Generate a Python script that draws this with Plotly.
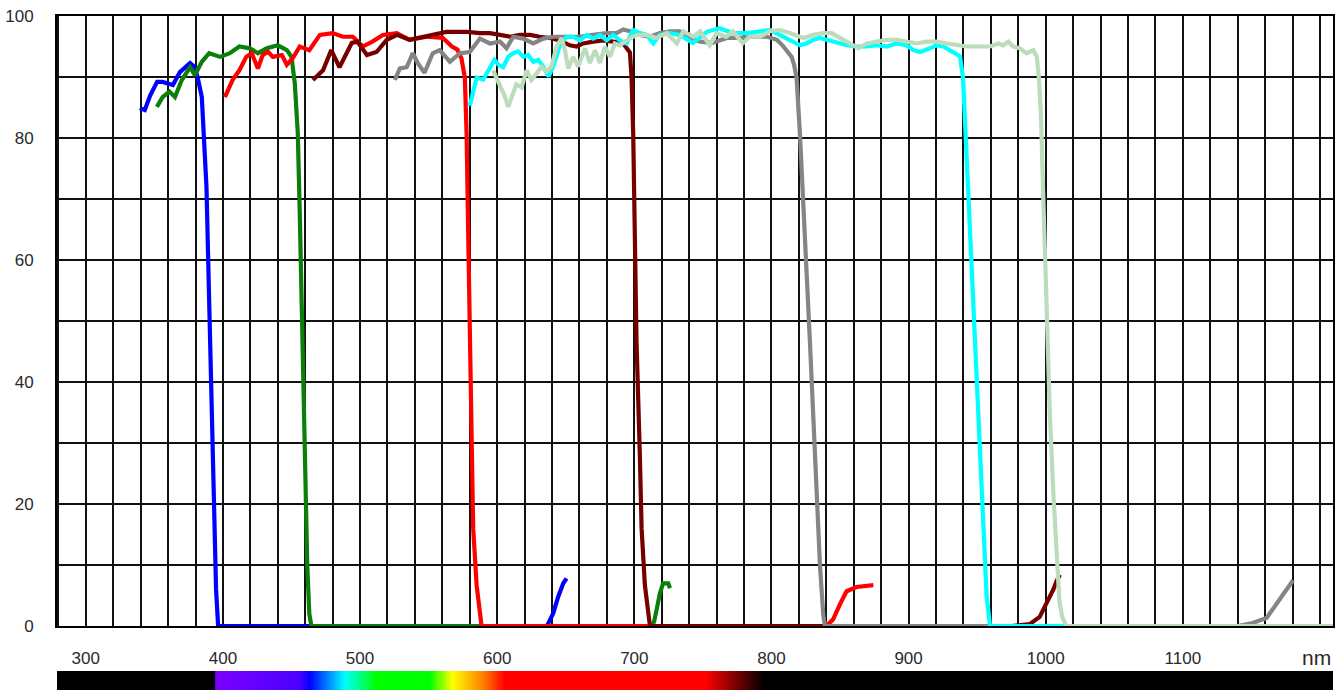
import numpy as np
import plotly.graph_objects as go

# ---------------- data ----------------
BLUE_NM = [339.4, 343, 347, 352, 356, 360, 363.5, 368.6, 372, 376, 379.5, 381.7, 384.6, 386, 388, 390, 392, 393.5, 395, 396.5,
           636, 637.2, 640.9, 644.5, 648.2, 650.6]
BLUE_T = [84.9, 84.6, 87, 89.2, 89.2, 89, 88.7, 90.8, 91.5, 92.3, 91.6, 89.8, 86.7, 81, 72, 53, 35, 20, 6, 0,
          0, 0.4, 2.1, 4.8, 7, 7.8]

GREEN_NM = [351.8, 356, 361, 365, 370, 376, 379.5, 384.6, 390, 398, 405, 412, 419.6, 425.5, 432, 440, 446.6, 450, 452.4,
            454.6, 456, 457.5, 459, 460.5, 461.5, 463, 464.5, 713, 714.5, 716.2, 718.7, 721, 724.7, 726]
GREEN_T = [85.1, 86.7, 87.6, 86.7, 89.5, 91.6, 90.3, 92.5, 93.9, 93.3, 93.9, 95, 94.7, 93.9, 94.7, 95.2, 94.4, 93.3, 89,
           80.8, 68, 52, 36, 20, 10, 2, 0, 0, 0.8, 2.6, 5.4, 7, 7, 6.2]

RED_NM = [401.4, 407, 412, 417, 421, 425.5, 429, 433, 436.4, 443, 446.6, 451, 456, 463, 470.7, 480, 487.5, 494.8, 502,
          509, 516.6, 526.8, 536, 548.7, 560.4, 567, 571, 574, 576.4, 577.7, 578.8, 580, 581.3, 582.5, 585, 587.4,
          588.6, 840.2, 845, 850, 854.8, 862, 868, 874.3]
RED_T = [86.7, 89.5, 91.1, 93.3, 93.9, 91.4, 93.6, 94.1, 93.3, 93.6, 92, 93.1, 95, 94.4, 96.9, 97.2, 96.6, 96.6, 95,
         95.8, 96.9, 97.2, 96.1, 96.6, 96.4, 95, 94.5, 93, 89.9, 80.6, 65.2, 46.7, 28.3, 16, 6.7, 1.8,
         0, 0, 1.1, 3.6, 5.7, 6.4, 6.5, 6.7]

MAROON_NM = [465.6, 473, 479, 485, 494, 498, 505, 512, 519.5, 527, 536, 543.6, 553, 563, 578, 587.4, 594.7, 602, 609.3,
             616.6, 624, 631, 638.4, 645.7, 653, 657.9, 662.7, 670, 677.3, 684.6, 691.9, 696.8, 698, 699.2, 700.4,
             701.6, 704, 705.3, 707.7, 710, 711.4, 975, 983, 988.3, 995.6, 1000.9, 1005.6, 1008, 1010.4]
MAROON_T = [89.5, 91.1, 94.4, 91.6, 95.6, 95.8, 93.6, 94.1, 96.1, 96.9, 96.1, 96.4, 96.9, 97.4, 97.4, 97.2, 97.2, 96.9,
            96.6, 96.9, 96.9, 96.6, 96.4, 96, 95.2, 95, 95.5, 95.8, 96, 95.8, 95.5, 94, 89.9, 80.6, 65.2,
            46.7, 28.3, 16, 6.7, 1.8, 0, 0, 0.1, 0.3, 1.5, 3.7, 6, 7.4, 8.4]

GRAY_NM = [525.4, 529, 534, 538.5, 542, 547, 553, 558, 565.5, 572.8, 580, 587.4, 594.7, 602, 606.8, 611.7, 619, 626.3,
           633.6, 641, 650.6, 660.3, 670, 679.8, 687, 691.9, 696.8, 704, 711.4, 718.7, 726, 733, 738, 748, 757, 767.5,
           777, 786.5, 796.7, 804, 808, 811, 814.7, 816.5, 818.3, 820.8, 823.2, 825.6, 828, 830.5, 833, 835.4, 837.8,
           839, 1140, 1151, 1161, 1168.7, 1176, 1180.4]
GRAY_T = [89.5, 91.4, 91.6, 93.9, 92.3, 90.7, 93.9, 94.4, 92.5, 93.9, 94.1, 96.3, 95.5, 95.8, 94.7, 96.6, 96.3, 95.5,
          96.3, 96.6, 96.6, 96.6, 96.9, 97.2, 97.2, 97.8, 97.5, 96.9, 96.6, 97.2, 97.5, 97.5, 96.6, 95.8, 95.6, 96.4,
          96.4, 96.6, 96.6, 96.1, 95.2, 94.4, 93.3, 92, 89.9, 80.6, 70.2, 59.1, 46.8, 34.4, 22.1, 9.8, 1.8,
          0, 0, 0.5, 1.3, 3.8, 5.9, 7.5]

CYAN_NM = [580, 585, 589.8, 594.7, 598, 601, 604.4, 608, 611.7, 615.3, 619, 622.6, 626.3, 630, 633.6, 637.5, 641, 645.7,
           650.6, 655.4, 660.3, 665.2, 670, 674.9, 679.8, 684.6, 689.5, 694.3, 699.2, 704, 709, 713.8, 718.7, 726, 733,
           742.7, 753, 762, 772, 782, 791.6, 799, 806, 813.5, 820.8, 825.6, 830.5, 835.4, 840.2, 847.5, 855, 862, 869.5,
           876.8, 884, 891.3, 898.6, 903.5, 908.4, 915.6, 920.5, 925.3, 930.2, 935, 937.5, 939.7, 942.2, 944.8, 947.2,
           949.6, 952, 954.4, 956.9, 959.4, 1100]
CYAN_T = [85.3, 89.9, 89.6, 91.5, 92.8, 92, 91.6, 93.3, 93.9, 94.2, 93.3, 93.6, 92.5, 92.8, 91.7, 90.1, 91.8, 95.2,
          96.6, 96.6, 96, 96.9, 96.3, 96.9, 96, 96.9, 96, 95.5, 97.7, 97.2, 96.9, 95.5, 96.9, 97.2, 96.9,
          95.6, 97.4, 98, 97.2, 97.2, 97.4, 97.7, 96.9, 96.1, 95.2, 95.5, 96.1, 96.4, 96.1, 95.5, 95.2, 95, 95,
          95.2, 95, 95.5, 95.2, 94.4, 94.1, 94.7, 95.2, 95, 94.4, 93.9, 93.4, 89.9, 77.6, 65.2, 53,
          40.6, 28.3, 16, 4.9, 0, 0]

PALE_NM = [597, 602, 605.6, 608, 611.7, 614, 617.8, 621.4, 625, 628.7, 632.4, 636, 639.6, 643.3, 647, 649.4, 651.8,
           655.4, 659, 664, 667.6, 671.3, 674.9, 678.6, 682.2, 685.8, 689.5, 694.3, 701.6, 709, 716.2, 723.5, 731,
           735.7, 743, 748, 755, 760, 767, 772, 779, 784, 791.6, 799, 806, 813.5, 823.2, 830.5, 837.8, 843.9, 850,
           857.3, 863.4, 869.5, 876.8, 884, 891.3, 898.6, 906, 913, 920.4, 927.7, 935, 942.3, 952, 959.4, 965.4, 969,
           972.7, 976.4, 981.2, 986, 991, 993.5, 995, 996.5, 998, 1000.5, 1003, 1005.5, 1008, 1010, 1012, 1015, 1210]
PALE_T = [91.1, 88.8, 86.8, 85.1, 87.3, 88.8, 88.3, 91.1, 89.5, 90.6, 91.7, 90.9, 91.7, 95, 96.4, 94.4, 91.4,
          93.3, 91.7, 94.7, 92.3, 94.4, 92.3, 95, 93.3, 95.5, 95.2, 96, 96.9, 96.9, 96.4, 97.2, 95.5,
          97.5, 96.6, 97.5, 95.2, 97.2, 96.6, 97.5, 95.5, 96.6, 96.6, 97.5, 97.7, 97.2, 96.4, 96.9, 97.2, 97.2, 96.4,
          95.5, 94.7, 95.5, 95.8, 96.1, 96.1, 95.8, 95.5, 95.8, 95.8, 95.5, 95.2, 95, 95, 95, 95.5, 95.2,
          95.8, 95, 94.7, 93.9, 94.4, 93.3, 90, 84, 72, 53, 35, 22, 10, 4, 1.5, 0, 0]

SERIES = [
    ("blue", BLUE_NM, BLUE_T, "#0000ff"),
    ("green", GREEN_NM, GREEN_T, "#0a800a"),
    ("red", RED_NM, RED_T, "#ff0000"),
    ("maroon", MAROON_NM, MAROON_T, "#760000"),
    ("gray", GRAY_NM, GRAY_T, "#858585"),
    ("cyan", CYAN_NM, CYAN_T, "#00ffff"),
    ("pale", PALE_NM, PALE_T, "#bcdcbc"),
]

X_TICKS = [300, 400, 500, 600, 700, 800, 900, 1000, 1100]
Y_TICKS = [0, 20, 40, 60, 80, 100]

# visible-spectrum colour bar (wavelength stops, nm)
SPECTRUM_NM = [279, 394, 394.6, 456, 463.4, 489, 512, 551, 567.7, 589.6, 605.6, 752, 794.5, 1210]
SPECTRUM_COLORS = ["#000000", "#000000", "#7a00ff", "#4c00ff", "#0000ff", "#00ffff", "#00ff00", "#00ff00",
                   "#ffff00", "#ff8000", "#ff0000", "#ff0000", "#000000", "#000000"]

X_MIN, X_MAX = 279, 1209.5

# ---------------- figure ----------------
fig = go.Figure()

for name, xs, ys, col in SERIES:
    fig.add_trace(go.Scatter(x=xs, y=ys, mode="lines", name=name,
                             line=dict(color=col, width=4.2), hoverinfo="skip", showlegend=False))

wl = np.arange(X_MIN, X_MAX + 1, 0.5)
span = SPECTRUM_NM[-1] - SPECTRUM_NM[0]
cscale = [[(s - SPECTRUM_NM[0]) / span, c] for s, c in zip(SPECTRUM_NM, SPECTRUM_COLORS)]
fig.add_trace(go.Heatmap(x=wl, y=[0], z=[wl], xaxis="x2", yaxis="y2", colorscale=cscale,
                         zmin=SPECTRUM_NM[0], zmax=SPECTRUM_NM[-1], showscale=False, hoverinfo="skip"))

H = 690
plot_h = H - 16
grid = dict(color="#111111", width=2)
font = dict(family="Liberation Sans, Arial, sans-serif", size=17, color="#2a2a2a")

fig.update_layout(
    width=1344, height=H,
    margin=dict(l=57, r=11, t=16, b=0, autoexpand=False),
    paper_bgcolor="white", plot_bgcolor="white",
    font=font,
    xaxis=dict(range=[X_MIN, X_MAX], tickvals=X_TICKS, showgrid=True, gridcolor=grid["color"],
               gridwidth=grid["width"], minor=dict(dtick=20, tick0=280, showgrid=True,
                                                    gridcolor=grid["color"], gridwidth=grid["width"]),
               zeroline=False, showline=True, linecolor="#000", linewidth=2, mirror=True,
               ticks="", ticklabelstandoff=16, anchor="y", tickfont=font, automargin=False),
    yaxis=dict(range=[0, 100], domain=[(H - 626) / plot_h, 1], tickvals=Y_TICKS, showgrid=True,
               gridcolor=grid["color"], gridwidth=grid["width"],
               minor=dict(dtick=10, tick0=0, showgrid=True, gridcolor=grid["color"], gridwidth=grid["width"]),
               zeroline=True, zerolinecolor="#000", zerolinewidth=3,
               showline=True, linecolor="#000", linewidth=2, mirror=True,
               ticks="", ticklabelstandoff=18, tickfont=font, automargin=False),
    xaxis2=dict(range=[X_MIN, X_MAX], domain=[0, 1], visible=False, anchor="y2", automargin=False),
    yaxis2=dict(range=[-0.5, 0.5], domain=[0, (H - 671) / plot_h], visible=False, anchor="x2", automargin=False),
    annotations=[dict(text="nm", x=1.0, xref="paper", xanchor="right", y=(H - 657) / plot_h, yref="paper",
                      yanchor="middle", showarrow=False,
                      font=dict(family="Liberation Sans, Arial, sans-serif", size=21, color="#2a2a2a"))],
)

fig.write_html("out.html")
